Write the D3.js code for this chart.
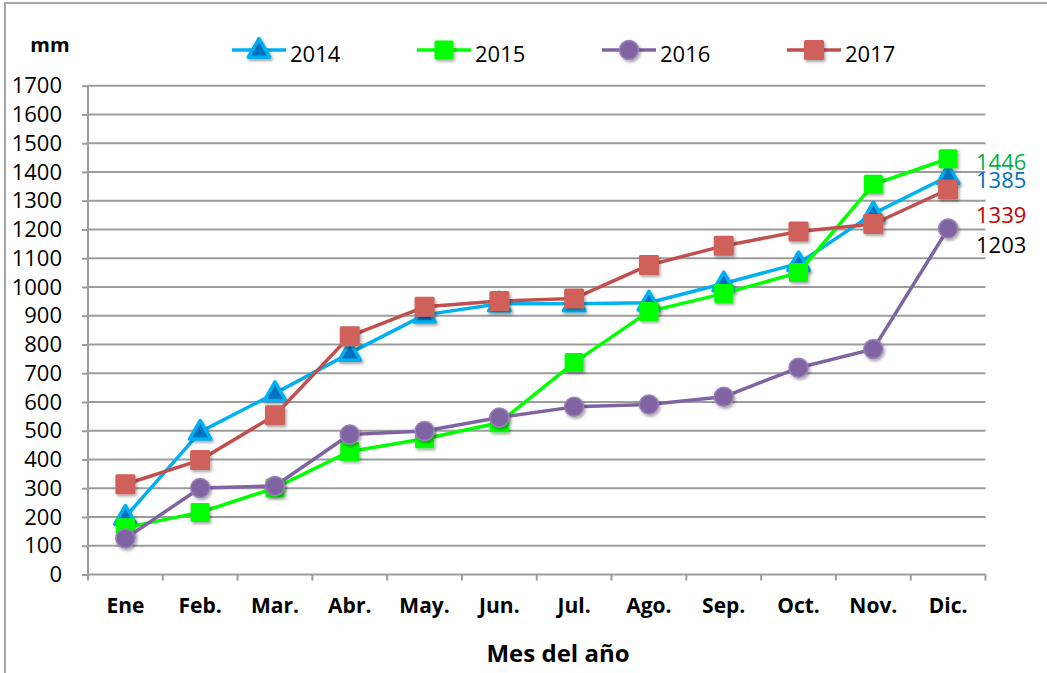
<!DOCTYPE html>
<html lang="es">
<head>
<meta charset="utf-8">
<title>Precipitación acumulada</title>
<script src="https://d3js.org/d3.v7.min.js"></script>
<style>
  html, body { margin: 0; padding: 0; background: #fff; }
  svg { display: block; font-family: "Open Sans", sans-serif; }
</style>
</head>
<body>
<script>
// data
var months = ["Ene", "Feb.", "Mar.", "Abr.", "May.", "Jun.", "Jul.", "Ago.", "Sep.", "Oct.", "Nov.", "Dic."];
var years = ["2014", "2015", "2016", "2017"];
var v2014 = [200, 496, 630, 770, 903, 942, 942, 945, 1012, 1082, 1255, 1385];
var v2015 = [163, 216, 301, 428, 472, 528, 737, 915, 977, 1050, 1357, 1446];
var v2016 = [125, 301, 308, 487, 499, 546, 583, 591, 618, 719, 784, 1203];
var v2017 = [314, 398, 554, 829, 931, 951, 960, 1076, 1143, 1193, 1219, 1339];
var yTicks = d3.range(0, 1800, 100);
var endLabels = ["1446", "1385", "1339", "1203"];

var W = 1047, H = 673;
var svg = d3.select("body").append("svg").attr("width", W).attr("height", H);

// marker shadow
var f = svg.append("defs").append("filter").attr("id", "sh")
  .attr("x", "-50%").attr("y", "-50%").attr("width", "200%").attr("height", "200%");
f.append("feDropShadow").attr("dx", 1.5).attr("dy", 2).attr("stdDeviation", 1.5)
  .attr("flood-color", "#000").attr("flood-opacity", 0.35);

// outer frame
svg.append("path").attr("d", "M5,673 V3 H1047")
  .attr("fill", "none").attr("stroke", "#a6a6a6").attr("stroke-width", 2);

var pL = 88, pR = 985.5, pT = 85.7, pB = 574.5;
var x = d3.scaleBand().domain(months).range([pL, pR]);
var y = d3.scaleLinear().domain([0, 1700]).range([pB, pT]);

// gridlines
svg.append("g").selectAll("line").data(yTicks.slice(1)).join("line")
  .attr("x1", pL).attr("x2", pR)
  .attr("y1", function(d){ return y(d); }).attr("y2", function(d){ return y(d); })
  .attr("stroke", "#9c9c9c").attr("stroke-width", 2);

// y axis
var ya = svg.append("g").attr("transform", "translate(" + pL + ",0)")
  .call(d3.axisLeft(y).tickValues(yTicks).tickSize(6).tickPadding(20).tickFormat(d3.format("d")));
ya.select(".domain").attr("stroke", "#9c9c9c").attr("stroke-width", 2).attr("d", "M0," + pB + "V" + pT);
ya.selectAll(".tick line").attr("stroke", "#9c9c9c").attr("stroke-width", 2);
ya.selectAll("text").attr("font-size", 22).attr("fill", "#000")
  .attr("font-family", "'Open Sans', sans-serif");

// x axis
var xa = svg.append("g").attr("transform", "translate(0," + pB + ")")
  .call(d3.axisBottom(x).tickSize(0).tickPadding(24));
xa.select(".domain").attr("stroke", "#9c9c9c").attr("stroke-width", 2).attr("d", "M" + pL + ",0H" + pR);
xa.selectAll("text").attr("font-size", 21).attr("font-weight", "bold").attr("fill", "#000")
  .attr("font-family", "'Open Sans', sans-serif");
// boundary ticks
svg.append("g").selectAll("line").data(d3.range(13)).join("line")
  .attr("x1", function(i){ return pL + i * x.step(); })
  .attr("x2", function(i){ return pL + i * x.step(); })
  .attr("y1", pB).attr("y2", pB + 6)
  .attr("stroke", "#9c9c9c").attr("stroke-width", 2);

svg.append("text").attr("x", 558).attr("y", 662).attr("text-anchor", "middle")
  .attr("font-size", 24).attr("font-weight", "bold").text("Mes del año");
svg.append("text").attr("x", 50).attr("y", 52).attr("text-anchor", "middle")
  .attr("font-size", 20).attr("font-weight", "bold").text("mm");

var series = [
  { name: "2014", vals: v2014, line: "#00b0f0", fill: "#0070c0", shape: "tri" },
  { name: "2015", vals: v2015, line: "#00ff00", fill: "#00ff00", shape: "sq" },
  { name: "2016", vals: v2016, line: "#8064a2", fill: "#8064a2", shape: "circ" },
  { name: "2017", vals: v2017, line: "#c0504d", fill: "#cf605a", shape: "sq" }
];

function marker(g, s, cx, cy) {
  if (s.shape === "tri") {
    g.append("path").attr("d", d3.symbol(d3.symbolTriangle, 200)())
      .attr("transform", "translate(" + cx + "," + (cy + 1) + ")")
      .attr("fill", s.fill).attr("stroke", s.line).attr("stroke-width", 3.5)
      .attr("stroke-linejoin", "round").attr("filter", "url(#sh)");
  } else if (s.shape === "sq") {
    var sz = s.name === "2017" ? 20 : 19;
    g.append("rect").attr("x", cx - sz / 2).attr("y", cy - sz / 2)
      .attr("width", sz).attr("height", sz).attr("rx", 1.5)
      .attr("fill", s.fill).attr("filter", "url(#sh)");
  } else {
    g.append("circle").attr("cx", cx).attr("cy", cy).attr("r", 9.5)
      .attr("fill", s.fill).attr("stroke", "#9a82b8").attr("stroke-width", 1.5)
      .attr("filter", "url(#sh)");
  }
}

var line = d3.line()
  .x(function(d, i){ return x(months[i]) + x.bandwidth() / 2; })
  .y(function(d){ return y(d); });

series.forEach(function(s){
  var g = svg.append("g");
  g.append("path").datum(s.vals).attr("d", line)
    .attr("fill", "none").attr("stroke", s.line).attr("stroke-width", 3.5)
    .attr("stroke-linejoin", "round");
  s.vals.forEach(function(v, i){
    marker(g, s, x(months[i]) + x.bandwidth() / 2, y(v));
  });
});

// legend
series.forEach(function(s, i){
  var lx = 232 + i * 185, ly = 50;
  var g = svg.append("g");
  g.append("line").attr("x1", lx).attr("x2", lx + 54).attr("y1", ly).attr("y2", ly)
    .attr("stroke", s.line).attr("stroke-width", 3.5);
  marker(g, s, lx + 27, ly);
  g.append("text").attr("x", lx + 58).attr("y", ly + 12)
    .attr("font-size", 22).attr("fill", "#000").text(s.name);
});

// end-of-series labels
var endColors = ["#00b050", "#0070c0", "#c00000", "#000"];
var endY = [170, 188, 223, 253];
endLabels.forEach(function(t, i){
  svg.append("text").attr("x", 976).attr("y", endY[i])
    .attr("font-size", 22).attr("fill", endColors[i]).text(t);
});
</script>
</body>
</html>
